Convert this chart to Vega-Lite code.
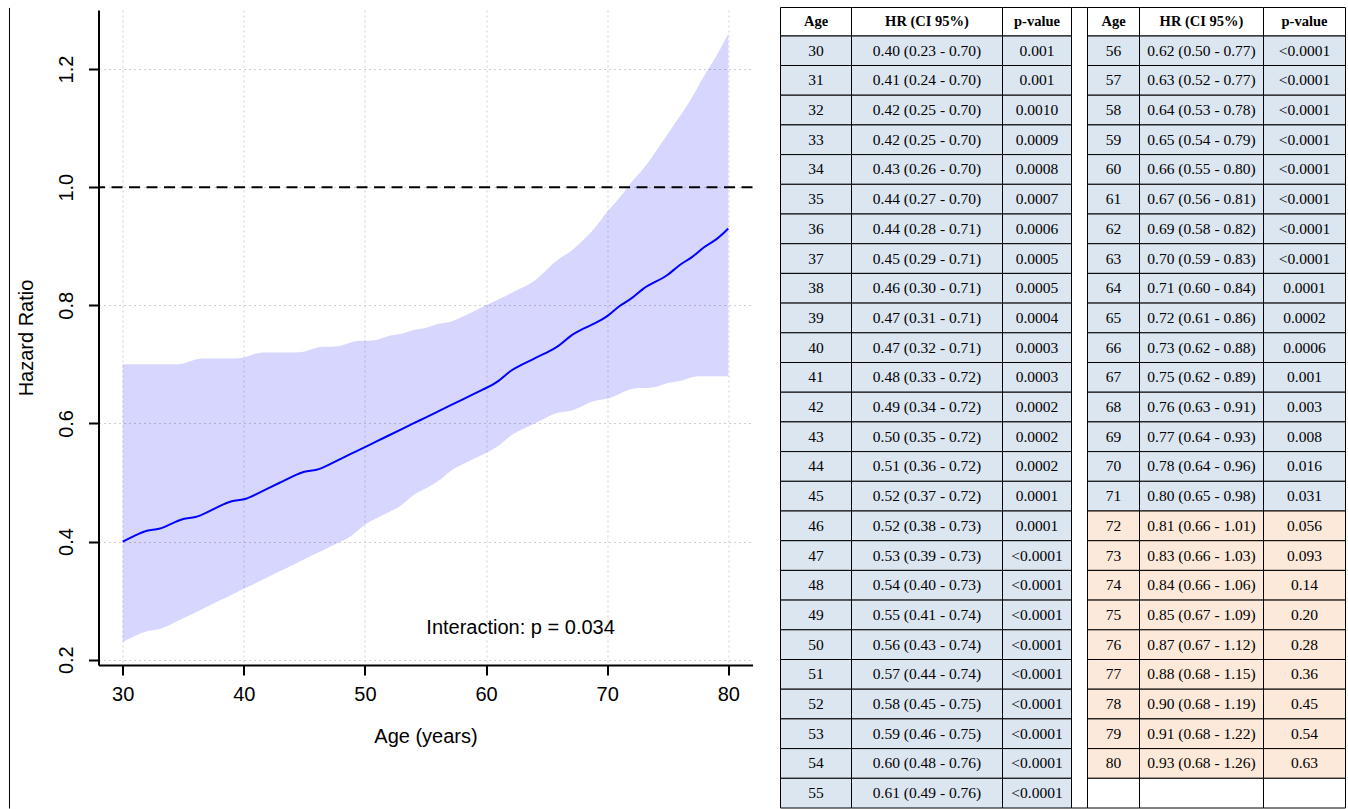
{
  "$schema": "https://vega.github.io/schema/vega-lite/v6.json",
  "padding": {"left": 8.5, "top": 7, "right": 0, "bottom": 0},
  "spacing": 26,
  "background": "white",
  "config": {
    "view": {"stroke": null},
    "font": "Liberation Sans"
  },
  "datasets": {
    "hr": [
      {"age": 30, "hr": 0.40, "lo": 0.23, "hi": 0.70, "p": "0.001"},
      {"age": 31, "hr": 0.41, "lo": 0.24, "hi": 0.70, "p": "0.001"},
      {"age": 32, "hr": 0.42, "lo": 0.25, "hi": 0.70, "p": "0.0010"},
      {"age": 33, "hr": 0.42, "lo": 0.25, "hi": 0.70, "p": "0.0009"},
      {"age": 34, "hr": 0.43, "lo": 0.26, "hi": 0.70, "p": "0.0008"},
      {"age": 35, "hr": 0.44, "lo": 0.27, "hi": 0.70, "p": "0.0007"},
      {"age": 36, "hr": 0.44, "lo": 0.28, "hi": 0.71, "p": "0.0006"},
      {"age": 37, "hr": 0.45, "lo": 0.29, "hi": 0.71, "p": "0.0005"},
      {"age": 38, "hr": 0.46, "lo": 0.30, "hi": 0.71, "p": "0.0005"},
      {"age": 39, "hr": 0.47, "lo": 0.31, "hi": 0.71, "p": "0.0004"},
      {"age": 40, "hr": 0.47, "lo": 0.32, "hi": 0.71, "p": "0.0003"},
      {"age": 41, "hr": 0.48, "lo": 0.33, "hi": 0.72, "p": "0.0003"},
      {"age": 42, "hr": 0.49, "lo": 0.34, "hi": 0.72, "p": "0.0002"},
      {"age": 43, "hr": 0.50, "lo": 0.35, "hi": 0.72, "p": "0.0002"},
      {"age": 44, "hr": 0.51, "lo": 0.36, "hi": 0.72, "p": "0.0002"},
      {"age": 45, "hr": 0.52, "lo": 0.37, "hi": 0.72, "p": "0.0001"},
      {"age": 46, "hr": 0.52, "lo": 0.38, "hi": 0.73, "p": "0.0001"},
      {"age": 47, "hr": 0.53, "lo": 0.39, "hi": 0.73, "p": "<0.0001"},
      {"age": 48, "hr": 0.54, "lo": 0.40, "hi": 0.73, "p": "<0.0001"},
      {"age": 49, "hr": 0.55, "lo": 0.41, "hi": 0.74, "p": "<0.0001"},
      {"age": 50, "hr": 0.56, "lo": 0.43, "hi": 0.74, "p": "<0.0001"},
      {"age": 51, "hr": 0.57, "lo": 0.44, "hi": 0.74, "p": "<0.0001"},
      {"age": 52, "hr": 0.58, "lo": 0.45, "hi": 0.75, "p": "<0.0001"},
      {"age": 53, "hr": 0.59, "lo": 0.46, "hi": 0.75, "p": "<0.0001"},
      {"age": 54, "hr": 0.60, "lo": 0.48, "hi": 0.76, "p": "<0.0001"},
      {"age": 55, "hr": 0.61, "lo": 0.49, "hi": 0.76, "p": "<0.0001"},
      {"age": 56, "hr": 0.62, "lo": 0.50, "hi": 0.77, "p": "<0.0001"},
      {"age": 57, "hr": 0.63, "lo": 0.52, "hi": 0.77, "p": "<0.0001"},
      {"age": 58, "hr": 0.64, "lo": 0.53, "hi": 0.78, "p": "<0.0001"},
      {"age": 59, "hr": 0.65, "lo": 0.54, "hi": 0.79, "p": "<0.0001"},
      {"age": 60, "hr": 0.66, "lo": 0.55, "hi": 0.80, "p": "<0.0001"},
      {"age": 61, "hr": 0.67, "lo": 0.56, "hi": 0.81, "p": "<0.0001"},
      {"age": 62, "hr": 0.69, "lo": 0.58, "hi": 0.82, "p": "<0.0001"},
      {"age": 63, "hr": 0.70, "lo": 0.59, "hi": 0.83, "p": "<0.0001"},
      {"age": 64, "hr": 0.71, "lo": 0.60, "hi": 0.84, "p": "0.0001"},
      {"age": 65, "hr": 0.72, "lo": 0.61, "hi": 0.86, "p": "0.0002"},
      {"age": 66, "hr": 0.73, "lo": 0.62, "hi": 0.88, "p": "0.0006"},
      {"age": 67, "hr": 0.75, "lo": 0.62, "hi": 0.89, "p": "0.001"},
      {"age": 68, "hr": 0.76, "lo": 0.63, "hi": 0.91, "p": "0.003"},
      {"age": 69, "hr": 0.77, "lo": 0.64, "hi": 0.93, "p": "0.008"},
      {"age": 70, "hr": 0.78, "lo": 0.64, "hi": 0.96, "p": "0.016"},
      {"age": 71, "hr": 0.80, "lo": 0.65, "hi": 0.98, "p": "0.031"},
      {"age": 72, "hr": 0.81, "lo": 0.66, "hi": 1.01, "p": "0.056"},
      {"age": 73, "hr": 0.83, "lo": 0.66, "hi": 1.03, "p": "0.093"},
      {"age": 74, "hr": 0.84, "lo": 0.66, "hi": 1.06, "p": "0.14"},
      {"age": 75, "hr": 0.85, "lo": 0.67, "hi": 1.09, "p": "0.20"},
      {"age": 76, "hr": 0.87, "lo": 0.67, "hi": 1.12, "p": "0.28"},
      {"age": 77, "hr": 0.88, "lo": 0.68, "hi": 1.15, "p": "0.36"},
      {"age": 78, "hr": 0.90, "lo": 0.68, "hi": 1.19, "p": "0.45"},
      {"age": 79, "hr": 0.91, "lo": 0.68, "hi": 1.22, "p": "0.54"},
      {"age": 80, "hr": 0.93, "lo": 0.68, "hi": 1.26, "p": "0.63"}
    ],
    "groups": [{"group": "left"}, {"group": "right"}],
    "note": [{"label": "Interaction: p = 0.034", "age": 62.85, "value": 0.254}]
  },
  "hconcat": [
    {
      "width": 654,
      "height": 655,
      "layer": [
        {
          "data": {"name": "hr"},
          "mark": {"type": "area", "color": "#0000ff", "opacity": 0.16, "interpolate": "basis"},
          "encoding": {
            "x": {"field": "age", "type": "quantitative",
              "scale": {"domain": [28, 82], "nice": false, "zero": false},
              "axis": {
                "values": [30, 40, 50, 60, 70, 80],
                "title": "Age (years)",
                "domainColor": "black", "domainWidth": 2,
                "tickColor": "black", "tickWidth": 2, "tickSize": 10,
                "labelFont": "Liberation Sans", "labelFontSize": 20, "labelColor": "black", "labelPadding": 9,
                "titleFont": "Liberation Sans", "titleFontSize": 20, "titleFontWeight": "normal", "titleColor": "black", "titlePadding": 22,
                "grid": true, "gridColor": "#cfcfcf", "gridDash": [2, 3], "gridWidth": 1
              }},
            "y": {"field": "lo", "type": "quantitative",
              "scale": {"domain": [0.191, 1.3], "nice": false, "zero": false},
              "axis": {
                "values": [0.2, 0.4, 0.6, 0.8, 1.0, 1.2],
                "format": ".1f",
                "title": "Hazard Ratio",
                "labelAngle": -90,
                "domainColor": "black", "domainWidth": 2,
                "tickColor": "black", "tickWidth": 2, "tickSize": 10,
                "labelFont": "Liberation Sans", "labelFontSize": 20, "labelColor": "black", "labelPadding": 12,
                "titleFont": "Liberation Sans", "titleFontSize": 20, "titleFontWeight": "normal", "titleColor": "black", "titlePadding": 20,
                "grid": true, "gridColor": "#cfcfcf", "gridDash": [2, 3], "gridWidth": 1
              }},
            "y2": {"field": "hi"}
          }
        },
        {
          "data": {"name": "hr"},
          "mark": {"type": "line", "color": "#0000ff", "strokeWidth": 2, "interpolate": "basis"},
          "encoding": {
            "x": {"field": "age", "type": "quantitative"},
            "y": {"field": "hr", "type": "quantitative"}
          }
        },
        {
          "data": {"values": [{"ref": 1.0}]},
          "mark": {"type": "rule", "color": "black", "strokeWidth": 2, "strokeDash": [11, 6.5]},
          "encoding": {
            "y": {"field": "ref", "type": "quantitative"}
          }
        },
        {
          "data": {"values": [{"frame": "border"}]},
          "mark": {"type": "rule", "color": "black", "strokeWidth": 1},
          "encoding": {
            "x": {"datum": 20.65, "type": "quantitative"},
            "y": {"datum": 1.3035, "type": "quantitative"},
            "y2": {"datum": -0.052}
          }
        },
        {
          "data": {"name": "note"},
          "mark": {"type": "text", "font": "Liberation Sans", "fontSize": 20, "color": "black", "align": "center", "baseline": "middle"},
          "encoding": {
            "x": {"field": "age", "type": "quantitative"},
            "y": {"field": "value", "type": "quantitative"},
            "text": {"field": "label"}
          }
        }
      ]
    },
    {
      "width": 565,
      "height": 798,
      "layer": [
        {
          "data": {"values": [{"gap": "spacer"}]},
          "mark": {"type": "rect", "fill": "white", "stroke": "black", "strokeWidth": 1},
          "encoding": {
            "x": {"datum": 291, "type": "quantitative", "scale": {"domain": [0, 565], "nice": false, "zero": false}, "axis": null},
            "x2": {"datum": 307},
            "y": {"datum": 0.047, "type": "quantitative", "scale": {"domain": [0.131, 27], "nice": false, "zero": false, "reverse": true}, "axis": null},
            "y2": {"datum": 27}
          }
        },
        {
          "data": {"name": "hr"},
          "transform": [
            {"calculate": "datum.age <= 55 ? 0 : 1", "as": "side"},
            {"calculate": "datum.side == 0 ? datum.age - 29 : datum.age - 55", "as": "row"},
            {"calculate": "datum.row + 1", "as": "row2"},
            {"calculate": "datum.side == 0 ? 0 : 307", "as": "c0"},
            {"calculate": "datum.side == 0 ? 71 : 359", "as": "c1"},
            {"calculate": "datum.side == 0 ? 222 : 483", "as": "c2"},
            {"calculate": "datum.side == 0 ? 291 : 565", "as": "c3"},
            {"calculate": "datum.hi < 1 ? 'sig' : 'ns'", "as": "sig"},
            {"calculate": "format(datum.hr, '.2f') + ' (' + format(datum.lo, '.2f') + ' - ' + format(datum.hi, '.2f') + ')'", "as": "hrText"},
            {"calculate": "(datum.c0 + datum.c1) / 2", "as": "m1"},
            {"calculate": "(datum.c1 + datum.c2) / 2", "as": "m2"},
            {"calculate": "(datum.c2 + datum.c3) / 2", "as": "m3"},
            {"calculate": "datum.row + 0.5", "as": "rowMid"}
          ],
          "layer": [
            {
              "mark": {"type": "rect", "stroke": "black", "strokeWidth": 1},
              "encoding": {
                "x": {"field": "c0", "type": "quantitative"},
                "x2": {"field": "c1"},
                "y": {"field": "row", "type": "quantitative"},
                "y2": {"field": "row2"},
                "fill": {"field": "sig", "type": "nominal", "scale": {"domain": ["sig", "ns"], "range": ["#dce6f1", "#fde9d9"]}, "legend": null}
              }
            },
            {
              "mark": {"type": "rect", "stroke": "black", "strokeWidth": 1},
              "encoding": {
                "x": {"field": "c1", "type": "quantitative"},
                "x2": {"field": "c2"},
                "y": {"field": "row", "type": "quantitative"},
                "y2": {"field": "row2"},
                "fill": {"field": "sig", "type": "nominal", "legend": null}
              }
            },
            {
              "mark": {"type": "rect", "stroke": "black", "strokeWidth": 1},
              "encoding": {
                "x": {"field": "c2", "type": "quantitative"},
                "x2": {"field": "c3"},
                "y": {"field": "row", "type": "quantitative"},
                "y2": {"field": "row2"},
                "fill": {"field": "sig", "type": "nominal", "legend": null}
              }
            },
            {
              "mark": {"type": "text", "font": "Liberation Serif", "fontSize": 15.5, "color": "black", "align": "center", "baseline": "middle"},
              "encoding": {
                "x": {"field": "m1", "type": "quantitative"},
                "y": {"field": "rowMid", "type": "quantitative"},
                "text": {"field": "age"}
              }
            },
            {
              "mark": {"type": "text", "font": "Liberation Serif", "fontSize": 15.5, "color": "black", "align": "center", "baseline": "middle"},
              "encoding": {
                "x": {"field": "m2", "type": "quantitative"},
                "y": {"field": "rowMid", "type": "quantitative"},
                "text": {"field": "hrText"}
              }
            },
            {
              "mark": {"type": "text", "font": "Liberation Serif", "fontSize": 15.5, "color": "black", "align": "center", "baseline": "middle"},
              "encoding": {
                "x": {"field": "m3", "type": "quantitative"},
                "y": {"field": "rowMid", "type": "quantitative"},
                "text": {"field": "p"}
              }
            }
          ]
        },
        {
          "data": {"name": "groups"},
          "transform": [
            {"calculate": "datum.group == 'left' ? 0 : 307", "as": "c0"},
            {"calculate": "datum.group == 'left' ? 71 : 359", "as": "c1"},
            {"calculate": "datum.group == 'left' ? 222 : 483", "as": "c2"},
            {"calculate": "datum.group == 'left' ? 291 : 565", "as": "c3"},
            {"calculate": "(datum.c0 + datum.c1) / 2", "as": "m1"},
            {"calculate": "(datum.c1 + datum.c2) / 2", "as": "m2"},
            {"calculate": "(datum.c2 + datum.c3) / 2", "as": "m3"},
            {"calculate": "0.047", "as": "top"},
            {"calculate": "1", "as": "bottom"},
            {"calculate": "0.53", "as": "mid"}
          ],
          "layer": [
            {
              "mark": {"type": "rect", "fill": "white", "stroke": "black", "strokeWidth": 1},
              "encoding": {
                "x": {"field": "c0", "type": "quantitative"},
                "x2": {"field": "c1"},
                "y": {"field": "top", "type": "quantitative"},
                "y2": {"field": "bottom"}
              }
            },
            {
              "mark": {"type": "rect", "fill": "white", "stroke": "black", "strokeWidth": 1},
              "encoding": {
                "x": {"field": "c1", "type": "quantitative"},
                "x2": {"field": "c2"},
                "y": {"field": "top", "type": "quantitative"},
                "y2": {"field": "bottom"}
              }
            },
            {
              "mark": {"type": "rect", "fill": "white", "stroke": "black", "strokeWidth": 1},
              "encoding": {
                "x": {"field": "c2", "type": "quantitative"},
                "x2": {"field": "c3"},
                "y": {"field": "top", "type": "quantitative"},
                "y2": {"field": "bottom"}
              }
            },
            {
              "mark": {"type": "text", "text": "Age", "font": "Liberation Serif", "fontSize": 14.5, "fontWeight": "bold", "color": "black", "align": "center", "baseline": "middle"},
              "encoding": {
                "x": {"field": "m1", "type": "quantitative"},
                "y": {"field": "mid", "type": "quantitative"}
              }
            },
            {
              "mark": {"type": "text", "text": "HR (CI 95%)", "font": "Liberation Serif", "fontSize": 14.5, "fontWeight": "bold", "color": "black", "align": "center", "baseline": "middle"},
              "encoding": {
                "x": {"field": "m2", "type": "quantitative"},
                "y": {"field": "mid", "type": "quantitative"}
              }
            },
            {
              "mark": {"type": "text", "text": "p-value", "font": "Liberation Serif", "fontSize": 14.5, "fontWeight": "bold", "color": "black", "align": "center", "baseline": "middle"},
              "encoding": {
                "x": {"field": "m3", "type": "quantitative"},
                "y": {"field": "mid", "type": "quantitative"}
              }
            }
          ]
        },
        {
          "data": {"name": "groups"},
          "transform": [
            {"filter": "datum.group == 'right'"},
            {"calculate": "26", "as": "r0"},
            {"calculate": "27", "as": "r1"},
            {"calculate": "307", "as": "c0"},
            {"calculate": "359", "as": "c1"},
            {"calculate": "483", "as": "c2"},
            {"calculate": "565", "as": "c3"}
          ],
          "layer": [
            {
              "mark": {"type": "rect", "fill": "white", "stroke": "black", "strokeWidth": 1},
              "encoding": {
                "x": {"field": "c0", "type": "quantitative"},
                "x2": {"field": "c1"},
                "y": {"field": "r0", "type": "quantitative"},
                "y2": {"field": "r1"}
              }
            },
            {
              "mark": {"type": "rect", "fill": "white", "stroke": "black", "strokeWidth": 1},
              "encoding": {
                "x": {"field": "c1", "type": "quantitative"},
                "x2": {"field": "c2"},
                "y": {"field": "r0", "type": "quantitative"},
                "y2": {"field": "r1"}
              }
            },
            {
              "mark": {"type": "rect", "fill": "white", "stroke": "black", "strokeWidth": 1},
              "encoding": {
                "x": {"field": "c2", "type": "quantitative"},
                "x2": {"field": "c3"},
                "y": {"field": "r0", "type": "quantitative"},
                "y2": {"field": "r1"}
              }
            }
          ]
        }
      ]
    }
  ]
}
